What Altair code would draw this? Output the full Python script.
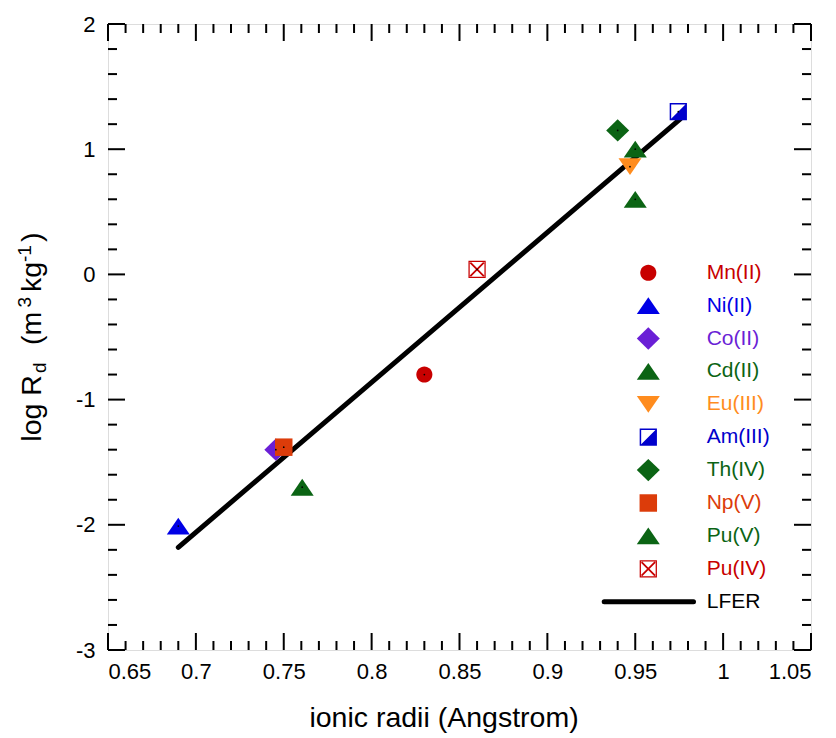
import altair as alt
import pandas as pd

FONT = "Liberation Sans, Arial, sans-serif"
W, H = 703, 626

# ---- data ----
ions = ["Mn(II)", "Ni(II)", "Co(II)", "Cd(II)", "Eu(III)", "Am(III)", "Th(IV)", "Np(V)", "Pu(V)", "Pu(IV)"]
ion_colors = ["#C80000", "#0000E6", "#6A1FD6", "#0B6414", "#FF8C1E", "#0000CC", "#0B6414", "#DC3C0A", "#0B6414", "#C80000"]

pt_ion = ["Ni(II)", "Co(II)", "Np(V)", "Pu(V)", "Mn(II)", "Pu(IV)", "Th(IV)", "Cd(II)", "Pu(V)", "Eu(III)", "Am(III)"]
pt_x = [0.690, 0.7455, 0.750, 0.7605, 0.830, 0.860, 0.940, 0.950, 0.950, 0.947, 0.9745]
pt_y = [-2.01, -1.40, -1.38, -1.70, -0.80, 0.04, 1.15, 1.00, 0.60, 0.86, 1.30]

lfer_x = [0.690, 0.9755]
lfer_y = [-2.18, 1.24]

x_major = [0.65, 0.7, 0.75, 0.8, 0.85, 0.9, 0.95, 1.0, 1.05]
y_major = [-3, -2, -1, 0, 1, 2]
x_minor = [round(0.65 + 0.01 * i, 2) for i in range(41) if i % 5 != 0]
y_minor = [round(-3 + 0.2 * i, 1) for i in range(26) if i % 5 != 0]

# ---- marker shapes (unit box -1..1) ----
circle = "M0.7,0A0.7,0.7,0,1,1,-0.7,0A0.7,0.7,0,1,1,0.7,0Z"
tri_up = "M0,-0.73L1,0.73L-1,0.73Z"
diamond = "M-1,0L0,-0.97L1,0L0,0.97Z"
tri_down = "M-1,-0.73L1,-0.73L0,0.73Z"
square = "M-0.76,-0.76L0.76,-0.76L0.76,0.76L-0.76,0.76Z"
half_sq = ("M-0.75,-0.75L0.75,-0.75L0.75,0.75L-0.75,0.75Z"
           "M-0.62,-0.62L-0.62,0.62L0.62,0.62L0.62,-0.62Z"
           "M0.62,-0.62L0.62,0.62L-0.62,0.62Z")
x_sq = ("M-0.75,-0.75L0.75,-0.75L0.75,0.75L-0.75,0.75Z"
        "M-0.64,-0.64L-0.64,0.64L0.64,0.64L0.64,-0.64Z"
        "M-0.53,-0.64L0.64,0.53L0.53,0.64L-0.64,-0.53Z"
        "M0.53,-0.64L0.64,-0.53L-0.53,0.64L-0.64,0.53Z")
ion_shapes = [circle, tri_up, diamond, tri_up, tri_down, half_sq, diamond, square, tri_up, x_sq]

color_scale = alt.Scale(domain=ions, range=ion_colors)
shape_scale = alt.Scale(domain=ions, range=ion_shapes)

xs = alt.Scale(domain=[0.65, 1.05], nice=False, zero=False)
ys = alt.Scale(domain=[-3, 2], nice=False, zero=False)
xaxis = alt.Axis(values=x_major, labelExpr="'' + datum.value", ticks=False, domain=False, grid=False,
                 labelFontSize=22, labelFont=FONT, labelColor="black", labelPadding=11,
                 title="ionic radii (Angstrom)", titleFont=FONT, titleFontSize=28.5,
                 titleFontWeight="normal", titleColor="black", titleX=335.5, titleY=76.7,
                 titleAlign="center", titleBaseline="alphabetic")
yaxis = alt.Axis(values=y_major, labelExpr="'' + datum.value", ticks=False, domain=False, grid=False,
                 labelFontSize=22, labelFont=FONT, labelColor="black", labelPadding=13, title="")

X = alt.X("x:Q", scale=xs, axis=xaxis)
Y = alt.Y("y:Q", scale=ys, axis=yaxis)

pts = pd.DataFrame({"ion": pt_ion, "x": pt_x, "y": pt_y})
line_df = pd.DataFrame({"x": lfer_x, "y": lfer_y})


def xticks(vals, length):
    d = pd.DataFrame({"x": vals})
    bot = alt.Chart(d).mark_rule(color="black", strokeWidth=2).encode(
        x=X, y=alt.value(H), y2=alt.value(H - length))
    top = alt.Chart(d).mark_rule(color="black", strokeWidth=2).encode(
        x=X, y=alt.value(0), y2=alt.value(length))
    return [bot, top]


def yticks(vals, length):
    d = pd.DataFrame({"y": vals})
    left = alt.Chart(d).mark_rule(color="black", strokeWidth=2).encode(
        y=Y, x=alt.value(0), x2=alt.value(length))
    right = alt.Chart(d).mark_rule(color="black", strokeWidth=2).encode(
        y=Y, x=alt.value(W), x2=alt.value(W - length))
    return [left, right]


ticks = xticks(x_major, 17) + xticks(x_minor, 9) + yticks(y_major, 17) + yticks(y_minor, 9)

lfer = alt.Chart(line_df).mark_line(color="black", strokeWidth=5, strokeCap="round").encode(x=X, y=Y)

points = alt.Chart(pts).mark_point(filled=True, opacity=1, strokeWidth=0, size=529).encode(
    x=X, y=Y,
    color=alt.Color("ion:N", scale=color_scale, legend=None),
    shape=alt.Shape("ion:N", scale=shape_scale, legend=None),
)
dots = alt.Chart(pts).mark_circle(size=3, color="black", opacity=1).encode(x=X, y=Y)

# ---- y-axis title built from pieces (sub/superscripts) ----
ytitle_pieces = [
    ("log R", 28.5, 441.7, 40.5),
    ("d", 19, 373.0, 46.0),
    ("(m", 28.5, 345.0, 40.5),
    ("3", 19, 307.5, 31.0),
    ("kg", 28.5, 292.0, 40.5),
    ("-1", 19, 262.0, 31.0),
    (")", 28.5, 242.0, 40.5),
]
ytitle_layers = []
for txt, fs, ypix, xpix in ytitle_pieces:
    ytitle_layers.append(
        alt.Chart(pd.DataFrame({"t": [txt]})).mark_text(
            angle=270, align="left", baseline="alphabetic", fontSize=fs, font=FONT, color="black"
        ).encode(text="t:N", x=alt.value(xpix - 108), y=alt.value(ypix - 24))
    )

main = alt.layer(*ticks, lfer, points, dots, *ytitle_layers)

# ---- legend ----
leg_df = pd.DataFrame({"ion": ions, "row": list(range(len(ions)))})
lfer_leg = pd.DataFrame({"label": ["LFER"], "row": [len(ions)]})
leg_y = alt.Y("row:Q", scale=alt.Scale(domain=[0, 10], range=[248.7, 577.7]), axis=None)

leg_pts = alt.Chart(leg_df).mark_point(filled=True, opacity=1, strokeWidth=0, size=529).encode(
    x=alt.value(540.3), y=leg_y,
    color=alt.Color("ion:N", scale=color_scale, legend=None),
    shape=alt.Shape("ion:N", scale=shape_scale, legend=None),
)
leg_txt = alt.Chart(leg_df).mark_text(align="left", baseline="middle", fontSize=21, font=FONT).encode(
    x=alt.value(598.7), y=leg_y, text="ion:N",
    color=alt.Color("ion:N", scale=color_scale, legend=None),
)
leg_line = alt.Chart(lfer_leg).mark_rule(color="black", strokeWidth=5, strokeCap="round").encode(
    x=alt.value(496.2), x2=alt.value(585.5), y=leg_y)
leg_line_txt = alt.Chart(lfer_leg).mark_text(align="left", baseline="middle", fontSize=21, font=FONT,
                                             color="black").encode(
    x=alt.value(598.7), y=leg_y, text="label:N")

legend = alt.layer(leg_pts, leg_txt, leg_line, leg_line_txt)

chart = alt.layer(main, legend).resolve_scale(y="independent").properties(
    width=W, height=H,
    autosize=alt.AutoSizeParams(type="none"),
    padding={"left": 100, "top": 16, "right": 17, "bottom": 86},
).configure_view(stroke="black", strokeWidth=2).configure(background="white")

chart.save("out.html", embed_options={"renderer": "svg", "actions": False})
